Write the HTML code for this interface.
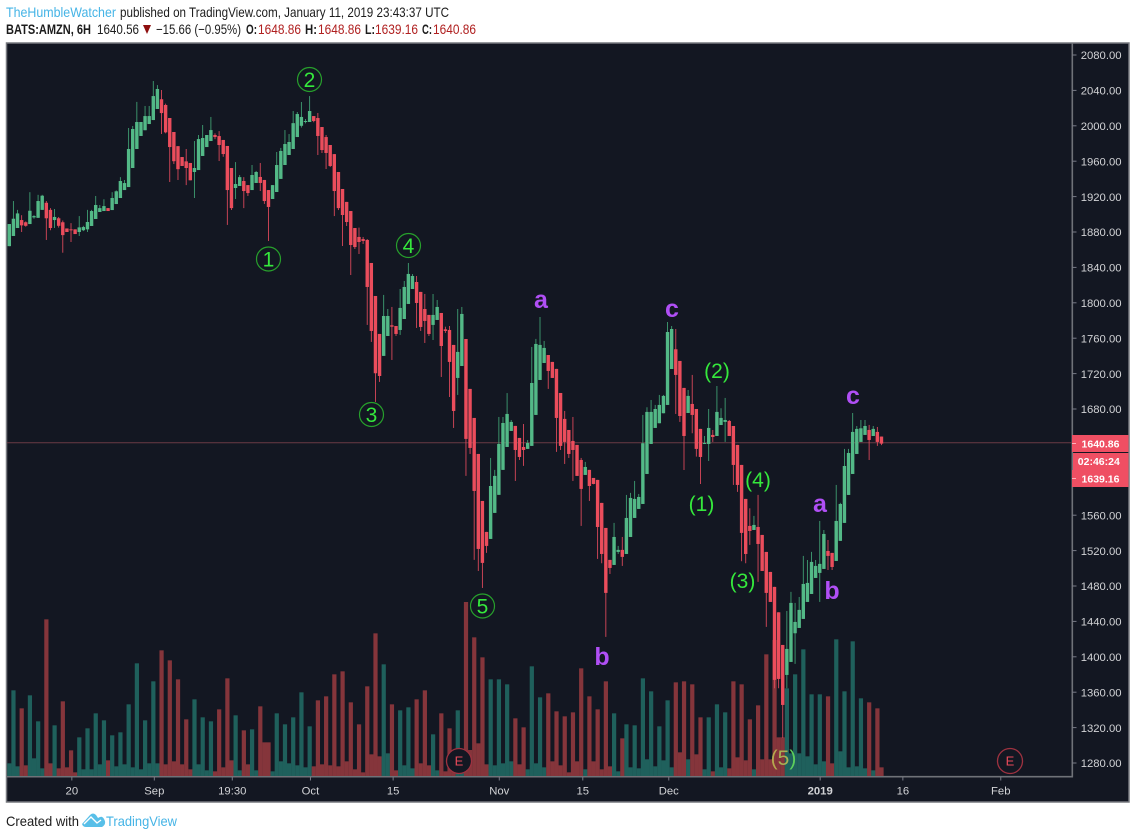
<!DOCTYPE html>
<html lang="en">
<head>
<meta charset="utf-8">
<title>BATS:AMZN, 6H chart</title>
<style>
html,body{margin:0;padding:0;background:#fff;}
svg{display:block;}
text{font-family:"Liberation Sans",sans-serif;}
</style>
</head>
<body>
<svg id="chart" xmlns="http://www.w3.org/2000/svg" width="1136" height="839" viewBox="0 0 1136 839">
  <g>
    <text x="6" y="17" font-size="14" fill="#45b4e6" textLength="110" lengthAdjust="spacingAndGlyphs">TheHumbleWatcher</text>
    <text x="120" y="17" font-size="14" fill="#1c1c1c" textLength="329" lengthAdjust="spacingAndGlyphs">published on TradingView.com, January 11, 2019 23:43:37 UTC</text>
    <text x="6" y="34" font-size="14" font-weight="bold" fill="#1c1c1c" textLength="85" lengthAdjust="spacingAndGlyphs">BATS:AMZN, 6H</text>
    <text x="97" y="34" font-size="14" fill="#1c1c1c" textLength="42" lengthAdjust="spacingAndGlyphs">1640.56</text>
    <polygon points="143,25 151,25 147,34" fill="#8e0f0f"/>
    <text x="156" y="34" font-size="14" fill="#1c1c1c" textLength="85" lengthAdjust="spacingAndGlyphs">−15.66 (−0.95%)</text>
    <text x="246" y="34" font-size="14" font-weight="bold" fill="#1c1c1c" textLength="11" lengthAdjust="spacingAndGlyphs">O:</text>
    <text x="258" y="34" font-size="14" fill="#b02020" textLength="43" lengthAdjust="spacingAndGlyphs">1648.86</text>
    <text x="305" y="34" font-size="14" font-weight="bold" fill="#1c1c1c" textLength="12" lengthAdjust="spacingAndGlyphs">H:</text>
    <text x="318" y="34" font-size="14" fill="#b02020" textLength="43" lengthAdjust="spacingAndGlyphs">1648.86</text>
    <text x="365" y="34" font-size="14" font-weight="bold" fill="#1c1c1c" textLength="10" lengthAdjust="spacingAndGlyphs">L:</text>
    <text x="375" y="34" font-size="14" fill="#b02020" textLength="43" lengthAdjust="spacingAndGlyphs">1639.16</text>
    <text x="422" y="34" font-size="14" font-weight="bold" fill="#1c1c1c" textLength="10" lengthAdjust="spacingAndGlyphs">C:</text>
    <text x="433" y="34" font-size="14" fill="#b02020" textLength="43" lengthAdjust="spacingAndGlyphs">1640.86</text>
  </g>

  <rect x="6.5" y="43" width="1122.5" height="759" fill="#131722" stroke="#77797f" stroke-width="1.5"/>
  <line x1="1072.3" y1="43" x2="1072.3" y2="777.4" stroke="#6f7278" stroke-width="1.6"/>
  <line x1="7" y1="776.7" x2="1073" y2="776.7" stroke="#6f7278" stroke-width="1.6"/>

  <g id="axes"></g>
  <line id="last-line" x1="7" x2="1072" stroke="#6b3a44" stroke-width="1"/>
  <g id="volumes"></g>
  <g id="candles"></g>

  <g font-size="21" text-anchor="middle" fill="#35e83c">
    <circle cx="268.5" cy="259" r="12" fill="none" stroke="#27a02c" stroke-width="1.2"/>
    <text x="268.5" y="266.5">1</text>
    <circle cx="309.5" cy="79.5" r="12" fill="none" stroke="#27a02c" stroke-width="1.2"/>
    <text x="309.5" y="87">2</text>
    <circle cx="371.5" cy="414.5" r="12" fill="none" stroke="#27a02c" stroke-width="1.2"/>
    <text x="371.5" y="422">3</text>
    <circle cx="408.5" cy="245.5" r="12" fill="none" stroke="#27a02c" stroke-width="1.2"/>
    <text x="408.5" y="253">4</text>
    <circle cx="482.5" cy="606" r="12" fill="none" stroke="#27a02c" stroke-width="1.2"/>
    <text x="482.5" y="613.5">5</text>
    <text x="701.5" y="511">(1)</text>
    <text x="717" y="378">(2)</text>
    <text x="742.5" y="588">(3)</text>
    <text x="758" y="487">(4)</text>
    <text x="783.5" y="765"><tspan fill="#b6a84e">(</tspan><tspan fill="#a8b054">5</tspan><tspan fill="#5ccf5c">)</tspan></text>
  </g>

  <g font-size="25" font-weight="bold" text-anchor="middle" fill="#b04ff5">
    <text x="541" y="308">a</text>
    <text x="602" y="665">b</text>
    <text x="672" y="317">c</text>
    <text x="820" y="512">a</text>
    <text x="832" y="599">b</text>
    <text x="853" y="404">c</text>
  </g>

  <g text-anchor="middle">
    <circle cx="459" cy="761" r="12.5" fill="#131722" stroke="#9e3240" stroke-width="1.3"/>
    <text x="459" y="765.5" font-size="13" fill="#ea4a5a">E</text>
    <circle cx="1010" cy="761" r="12.5" fill="none" stroke="#9e3240" stroke-width="1.3"/>
    <text x="1010" y="765.5" font-size="13" fill="#ea4a5a">E</text>
  </g>

  <g fill="#ffffff" text-anchor="middle">
    <rect x="1072" y="435" width="56.5" height="17" fill="#ef4f63"/>
    <line x1="1072" y1="443.5" x2="1076" y2="443.5" stroke="#ffb0b8"/>
    <text x="1100.5" y="447.5" font-weight="bold" font-size="10.5">1640.86</text>
    <rect x="1073" y="453" width="55.5" height="17" fill="#ef4f63"/>
    <text x="1098.8" y="465" font-weight="bold" font-size="10.5">02:46:24</text>
    <rect x="1072" y="470" width="56.5" height="17" fill="#ef4f63"/>
    <line x1="1072" y1="478.5" x2="1076" y2="478.5" stroke="#ffb0b8"/>
    <text x="1100.5" y="482.5" font-weight="bold" font-size="10.5">1639.16</text>
  </g>

  <g>
    <text x="6" y="826" font-size="14" fill="#1c1c1c" textLength="73" lengthAdjust="spacingAndGlyphs">Created with</text>
    <path d="M82,824 L90,815 Q93,812 96,815 L98,818 Q102,815 104,819 Q107,824 102,827 L86,827 Q83,827 82,824 Z" fill="#58bfe8"/>
    <path d="M84,824 L91,817 L97,823 L101,820" fill="none" stroke="#ffffff" stroke-width="1.4"/>
    <text x="106" y="826" font-size="14" fill="#45b4e6" textLength="71" lengthAdjust="spacingAndGlyphs">TradingView</text>
  </g>
</svg>
<script>
// price data, six-hour bars
const opens = [
1864,1875.5,1884.5,1893.5,1891,1889,1896.5,1896,1905,1913,
1905,1893.5,1895.5,1891,1884,1883,1883,1880,1882,1883,
1886.8,1894.7,1902.6,1903.7,1907,1904.8,1911.6,1918.4,1927.4,1930.8,
1952.3,1973.8,1988.5,1995,2002,2006.5,2019,2030,2023.5,2008.8,
1993,1977,1964.7,1959.8,1958,1947.8,1950,1965.9,1976,1982.8,
1989.6,1988.4,1984,1977.2,1952.3,1929.7,1932,1937.6,1933,1927.4,
1935.4,1942.2,1938.8,1927.4,1917.3,1925.2,1940,1955.7,1967,1973.8,
1987.3,2000,2004.3,2004.3,2011,2008.8,1998.6,1987.3,1978.3,1968,
1947.8,1928.6,1914,1903.7,1884.5,1874.4,1872,1871,1845,1807.7,
1764.8,1740,1762.5,1774.6,1773.8,1769.3,1781.7,1798.7,1815.6,1823.5,
1812.3,1793,1786.3,1775,1780.6,1788.5,1770,1769.3,1752.4,1715.1,
1728.6,1759.1,1702.7,1669.9,1629.2,1576.1,1541.1,1533.2,1562.6,1583,
1611.2,1637.1,1655.2,1660.9,1647.3,1637.1,1634.9,1638.3,1673.3,1712.8,
1732,1741,1733.2,1725.3,1698.1,1668.8,1656.3,1643.9,1639.4,1622.4,
1605.5,1611.2,1602.1,1599.9,1573.9,1545.6,1509.5,1503.8,1518.5,1520.8,
1516.2,1535.4,1556.9,1567.1,1572.7,1606.6,1640.5,1658.6,1663.9,1675.2,
1684.6,1725.2,1747.5,1734.3,1703.8,1675.5,1685.7,1680,1657.5,1640.5,
1640.5,1650.7,1649.5,1661.9,1665.4,1666.5,1660.8,1639.4,1616.8,1578.4,
1547.9,1543.3,1546.7,1537.7,1518.5,1495.9,1479,1450.3,1413.4,1379.5,
1394.2,1426.6,1432.6,1442.8,1462,1471,1489.1,1494.8,1499.3,1519.6,
1517.4,1508.3,1531,1551.3,1582.9,1606.6,1629.2,1642.8,1650.7,1656.3,
1649.5,1654.1,1648.86];
const highs = [
1889,1915,1905,1899,1892,1925,1899,1922,1922,1915,
1907,1906,1897,1893,1884,1890,1883,1898,1887,1905,
1905,1920.7,1910.5,1917,1907,1925,1927,1942,1938.8,1997.5,
1999.8,2027,2004.3,2022.4,2022.4,2050.6,2046,2040.4,2025,2008.8,
1993,1977,1964.7,1973.8,1958,1982.8,1989.6,2000.9,1989.6,2010,
1991.4,1994,1984,1977.2,1952.3,1959,1944.4,1942,1933,1955.7,
1949,1958,1938.8,1927.4,1933,1970.4,1975,1995.2,1990.7,2016.7,
2015.6,2026.9,2007.7,2033.6,2011,2014.5,1998.6,1989.6,1978.3,1968,
1947.8,1928.6,1914,1903.7,1884.5,1885,1874.4,1872,1845,1807.7,
1764.8,1808.9,1793,1795.3,1773.8,1815.6,1824.7,1845,1832.6,1830.3,
1812.3,1810,1786.3,1810,1803.2,1788.5,1773,1773.8,1752.4,1793,
1795.3,1759.1,1702.7,1669.9,1629.2,1576.1,1541.1,1624.7,1611.2,1671,
1671,1698,1667.6,1660.9,1647.3,1663.1,1645,1750.1,1759.2,1784,
1756.9,1741,1733.2,1725.3,1698.1,1677.8,1656.3,1671,1639.4,1624.7,
1620.2,1611.2,1602.1,1599.9,1573.9,1545.6,1509.5,1551.3,1525.3,1535.4,
1582.9,1585.2,1598.7,1584,1673.3,1682,1690.2,1684.6,1695.9,1695.9,
1778.3,1773.8,1770.4,1734.3,1703.8,1701.5,1718.5,1680,1657.5,1649.5,
1680,1656.3,1706,1680.8,1692.5,1667.6,1660.8,1639.4,1616.8,1578.4,
1567.8,1559.2,1582.9,1537.7,1518.5,1495.9,1479,1450.3,1413.4,1451.8,
1473.3,1460.9,1467.6,1514,1509.4,1518.5,1509.4,1553.5,1543.3,1532,
1517.4,1594.2,1574,1634.9,1634.9,1675.5,1660.8,1667.6,1667.6,1662,
1660.8,1659.7,1648.86];
const lows = [
1864,1875.5,1884.5,1880,1886,1889,1895,1896,1905,1871,
1882,1884.5,1885,1856.6,1880,1868.7,1877.7,1875.5,1881,1880,
1886.8,1894.7,1902.6,1903.7,1903.7,1904.8,1911.6,1918.4,1927.4,1930.8,
1952.3,1973.8,1988.5,1995,2002,2006.5,2019,1990.7,1991.5,1936.5,
1956.8,1938.7,1954.6,1933,1938.4,1918.4,1950,1965.9,1976,1982.8,
1985,1960.2,1965,1888,1904.8,1917.3,1932,1907,1920.7,1927.4,
1935.4,1926.3,1911.7,1869.8,1917.3,1925.2,1940,1955.7,1967,1973.8,
1987.3,1998,2002.8,2004.3,2004,1967,1969.3,1951.2,1953.4,1898,
1904.8,1864.2,1886.8,1831.4,1860.8,1855.2,1866.5,1775,1755.8,1688,
1710.6,1740,1762.5,1735.4,1762.5,1763.7,1781.7,1798.7,1815.6,1771.6,
1768.2,1754.6,1762.5,1758,1780.6,1716.2,1766,1693.6,1658.6,1695.9,
1728.6,1604.4,1629.2,1509.5,1497,1477.8,1517.4,1533.2,1562.6,1583,
1611.2,1637.1,1655.2,1598.7,1622.4,1615.7,1634.9,1638.3,1673.3,1712.8,
1732,1702.7,1715.1,1631.5,1633.7,1617.9,1624.7,1598.7,1604.4,1547.9,
1605.5,1576.1,1595,1510.6,1505.7,1422.5,1493.6,1503.8,1516.2,1502.7,
1516.2,1535.4,1556.9,1567.1,1572.7,1606.6,1640.5,1658.6,1663.9,1675.2,
1684.6,1725.2,1674.4,1665.4,1611.1,1675.5,1652.6,1626.2,1595.3,1640.5,
1621.3,1642.8,1649.5,1661.9,1642.8,1649.5,1594.2,1586.3,1508,1505.7,
1526.4,1543.3,1484.6,1497,1433.8,1462,1364.5,1364.5,1308.3,1364.5,
1394.2,1392,1432.6,1442.8,1462,1471,1489.1,1462,1499.3,1498.1,
1498.1,1508.3,1531,1551.3,1582.9,1606.6,1629.2,1642.8,1650.7,1622.4,
1649.5,1638.3,1639.16];
const closes = [
1889,1895,1901,1887.5,1887,1904,1898,1915,1921,1895.5,
1884.5,1897,1887,1876.5,1880,1882.6,1877.7,1885.2,1885.6,1891.3,
1903.7,1910.5,1907,1909.3,1903.7,1918.4,1926,1937.6,1935.3,1973.8,
1996.4,2004.3,2004.3,2011,2011,2033.6,2041.6,2014.4,1992.6,1976,
1960,1951,1954.6,1952.3,1938.4,1952.3,1985,1986.2,1989.6,1995.2,
1987.3,1978.3,1968.1,1927.4,1907,1934.2,1942,1926.3,1924,1944.4,
1947.8,1935.4,1915,1908.3,1933,1955.7,1971.6,1979.4,1981.7,2003,
2013.3,2010,2005.4,2016.7,2005.4,1988.5,1972.6,1969.3,1954.6,1926.3,
1907,1899.2,1891.3,1865.3,1863,1868.7,1869.9,1817.9,1768.2,1720.4,
1717.3,1785.1,1785.1,1773,1764.8,1794.2,1817.9,1832.6,1830.3,1799.8,
1772.7,1779.5,1764.8,1786.3,1795.3,1751.2,1768.2,1733.2,1677.8,1744.5,
1787.4,1646.2,1636,1587.4,1521.9,1506.1,1525.3,1593,1604.4,1640.5,
1664.2,1674.4,1665.4,1633.7,1625.8,1633.7,1641.6,1709.4,1753.5,1752.4,
1749,1723,1715.1,1669.9,1638.3,1642.8,1629.2,1633.7,1604.4,1589.7,
1614.5,1593,1595.3,1546.7,1516.2,1472.2,1500.4,1535.4,1520.8,1512.9,
1556.9,1579.5,1578.4,1580.6,1641.3,1676.7,1676.7,1680,1684.6,1694.8,
1767,1770.4,1718.5,1672.1,1649.5,1694.8,1673.3,1634.9,1625.8,1641.6,
1658.6,1648.4,1676.7,1669.9,1667.6,1649.5,1616.8,1594.2,1540,1516.2,
1542.2,1549,1527.5,1497,1472.2,1462,1373.9,1375,1345.6,1408.9,
1460.9,1439.4,1453,1482.3,1483.5,1507.2,1502.7,1505,1538.8,1514,
1501.5,1553.5,1572.7,1615.6,1630.3,1654.1,1657.5,1658.2,1660.8,1645,
1657.5,1642.8,1640.86];
const volumes = [
38,257,29,203,32,242,53,164,23,470,
38,152,23,224,26,77,11,116,20,143,
20,188,35,167,47,122,29,131,35,215,
26,338,20,167,38,284,38,377,35,347,
44,290,35,170,20,230,35,176,17,164,
14,200,26,293,47,182,17,137,35,140,
17,209,101,101,14,188,44,155,38,176,
32,251,26,149,29,227,35,239,32,305,
29,314,44,221,20,155,11,269,65,428,
59,335,68,215,17,197,32,206,23,230,
38,257,32,125,17,188,14,143,14,197,
38,522,78,416,98,356,35,290,32,290,
38,275,44,173,35,146,20,329,38,236,
26,248,44,194,32,179,11,191,44,323,
20,239,44,200,20,284,29,188,14,113,
155,26,152,23,293,50,254,29,149,47,
227,26,281,71,284,50,275,65,176,20,
176,14,215,26,191,23,284,56,275,47,
170,20,212,50,365,50,408,116,116,263,
68,305,68,380,59,245,35,245,44,239,
38,410,74,254,26,404,29,233,23,221,
17,203,26];
const priceTicks = [2080,2040,2000,1960,1920,1880,1840,1800,1760,1720,1680,1640,1600,1560,1520,1480,1440,1400,1360,1320,1280];
const timeTickLabels = ["20","Sep","19:30","Oct","15","Nov","15","Dec","2019","16","Feb"];
const timeTickBars = [15.2,35.25,54.2,73.2,93.3,119.1,139.4,160.3,197.1,217.2,241];
const timeTickBold = ["2019"];
const lastClose = 1640.86;

const SVG_NS = 'http://www.w3.org/2000/svg';
function xAxis(i) { return 9.3 + i * 4.114; }
function yAxis(p) { return 55 + (2080 - p) * 0.885; }
function volAxis(v) { return 776 - v / 3; }
function make(tag, attrs) {
  const el = document.createElementNS(SVG_NS, tag);
  Object.keys(attrs).forEach(function (k) { el.setAttribute(k, attrs[k]); });
  return el;
}
const axesG = document.getElementById('axes');
const volG = document.getElementById('volumes');
const candleG = document.getElementById('candles');
document.getElementById('last-line').setAttribute('y1', yAxis(lastClose) - 0.9);
document.getElementById('last-line').setAttribute('y2', yAxis(lastClose) - 0.9);

priceTicks.forEach(function (p) {
  const y = yAxis(p);
  const tick = make('line', { x1: 1072, x2: 1076.5, y1: y, y2: y, stroke: '#787b86', 'stroke-width': 1 });
  
  
  axesG.appendChild(tick);
  const label = make('text', { x: 1080.7, y: y + 4.2, 'font-size': 11.3, fill: '#d2d3d6' });
  
  
  label.textContent = p.toFixed(2);
  axesG.appendChild(label);
});

timeTickLabels.forEach(function (t, k) {
  const x = xAxis(timeTickBars[k]);
  const tick = make('line', { x1: x, x2: x, y1: 777, y2: 780.5, stroke: '#787b86', 'stroke-width': 1 });
  
  
  axesG.appendChild(tick);
  const label = make('text', { x: x, y: 794.5, 'font-size': 11.3, fill: '#d2d3d6', 'text-anchor': 'middle' });
  if (timeTickBold.indexOf(t) >= 0) label.setAttribute('font-weight', 'bold');
  
  
  label.textContent = t;
  axesG.appendChild(label);
});

const step = xAxis(1) - xAxis(0);
volumes.forEach(function (v, i) {
  const up = closes[i] >= opens[i];
  const y = volAxis(v);
  const bar = make('rect', { x: xAxis(i) - step / 2, y: y, width: step + 0.1, height: 776 - y, fill: up ? '#1f605c' : '#85353b' });
  
  
  volG.appendChild(bar);
});

opens.forEach(function (o, i) {
  const c = closes[i];
  const up = c >= o;
  const color = up ? '#53b987' : '#eb4d5c';
  const x = xAxis(i);
  const wick = make('line', { x1: x, x2: x, y1: yAxis(highs[i]), y2: yAxis(lows[i]), stroke: up ? '#3f9e72' : '#d8485a', 'stroke-width': 0.9 });
  
  
  candleG.appendChild(wick);
  const top = yAxis(Math.max(o, c));
  const h = Math.max(yAxis(Math.min(o, c)) - top, 1);
  const body = make('rect', { x: x - 1.7, y: top, width: 3.4, height: h, fill: color });
  
  
  candleG.appendChild(body);
});
</script>
</body>
</html>
